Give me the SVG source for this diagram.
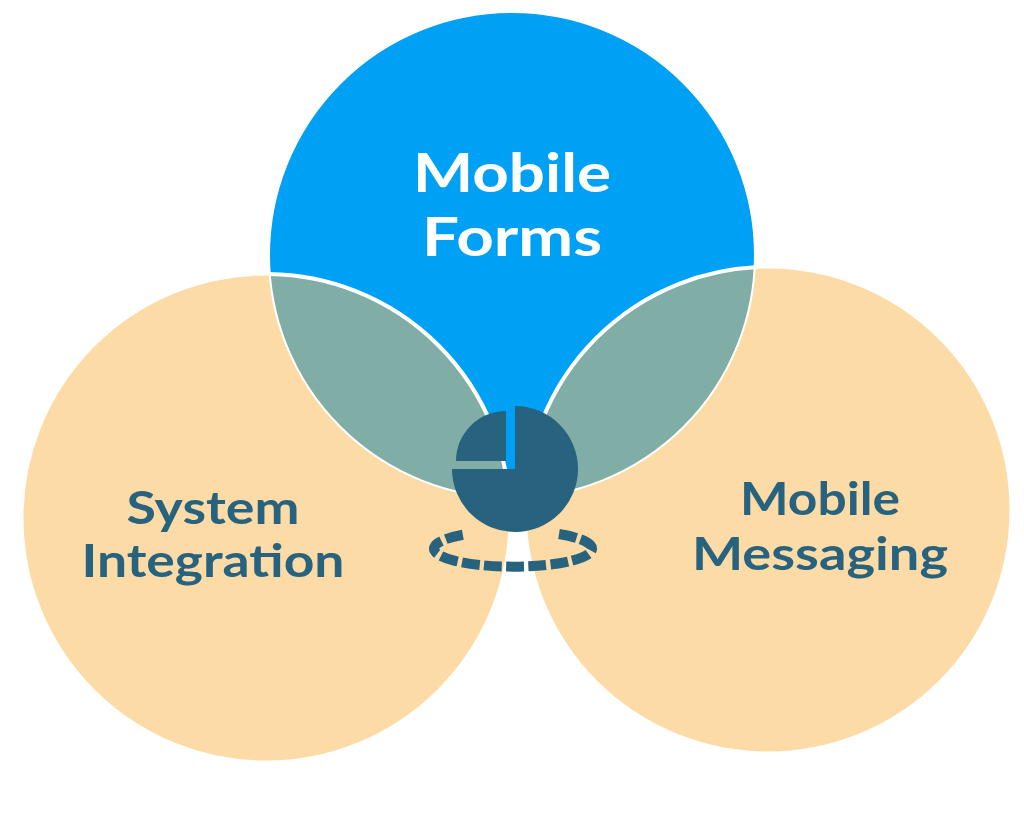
<svg xmlns="http://www.w3.org/2000/svg" width="1024" height="817" viewBox="0 0 1024 817">
<style>
.peach{fill:#FDDBA6;stroke:#fff;stroke-width:3}
.t{font-family:Lato,"Noto Sans",sans-serif;font-weight:bold;text-anchor:middle}
.d{fill:#27627F;font-size:46px}
</style>
<defs>
<clipPath id="cb"><circle cx="512" cy="255" r="243"/></clipPath>
</defs>
<rect width="1024" height="817" fill="#fff"/>
<g id="system-integration">
<circle class="peach" cx="266" cy="518" r="244"/>
<text class="t d" x="213" y="524" textLength="173" lengthAdjust="spacingAndGlyphs">System</text>
<text class="t d" x="213" y="577" textLength="263" lengthAdjust="spacingAndGlyphs">Integration</text>
</g>
<g id="mobile-messaging">
<circle class="peach" cx="768" cy="510" r="243"/>
<text class="t d" x="820" y="515" textLength="160" lengthAdjust="spacingAndGlyphs">Mobile</text>
<text class="t d" x="820" y="570" textLength="256" lengthAdjust="spacingAndGlyphs">Messaging</text>
</g>
<g id="mobile-forms">
<circle cx="512" cy="255" r="243" fill="#00A0F5"/>
<g clip-path="url(#cb)">
<circle cx="266" cy="518" r="244" fill="#80ADA5" stroke="#fff" stroke-width="4"/>
<circle cx="768" cy="510" r="243" fill="#80ADA5" stroke="#fff" stroke-width="4"/>
</g>
<circle cx="512" cy="255" r="243" fill="none" stroke="#fff" stroke-width="2"/>
<text class="t" x="512" y="192" fill="#fff" font-size="54" textLength="198" lengthAdjust="spacingAndGlyphs">Mobile</text>
<text class="t" x="512" y="256" fill="#fff" font-size="54" textLength="180" lengthAdjust="spacingAndGlyphs">Forms</text>
</g>
<g id="icon" fill="#27627F">
<path d="M515 469 L515 406 A63 63 0 1 1 452 469 Z"/>
<path d="M506 461 L456 461 A50 50 0 0 1 506 411 Z"/>
<path d="M559 534 A79 18 0 1 1 467 534" fill="none" stroke="#27627F" stroke-width="10" pathLength="100" stroke-dasharray="7.3 1.8"/>
</g>
<g id="connectors"/>
</svg>
